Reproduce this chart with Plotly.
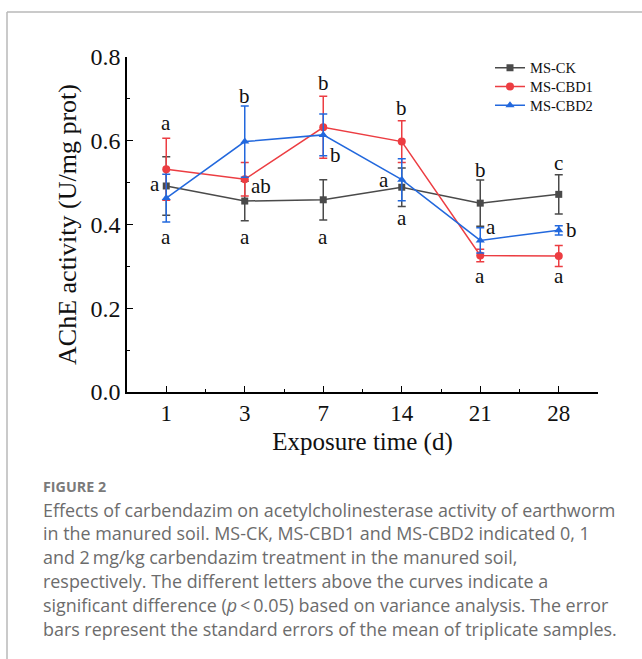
import plotly.graph_objects as go

# Exposure days and AChE activity (U/mg prot), mean ± SE of triplicates
days = ["1", "3", "7", "14", "21", "28"]
series_names = ["MS-CK", "MS-CBD1", "MS-CBD2"]
ck_mean = [0.492, 0.456, 0.459, 0.489, 0.451, 0.472]
ck_se = [0.070, 0.047, 0.048, 0.046, 0.055, 0.047]
cbd1_mean = [0.532, 0.508, 0.632, 0.598, 0.326, 0.325]
cbd1_se = [0.074, 0.040, 0.074, 0.050, 0.015, 0.025]
cbd2_mean = [0.463, 0.598, 0.614, 0.507, 0.362, 0.386]
cbd2_se = [0.057, 0.085, 0.050, 0.050, 0.030, 0.011]

# Significance letters: (day index, y value, letter, horizontal shift in px)
letters_top = [(0, 0.642, "a"), (1, 0.706, "b"), (2, 0.738, "b"),
               (3, 0.678, "b"), (4, 0.529, "b"), (5, 0.546, "c")]
letters_side = [(0, 0.497, "a", -11), (1, 0.493, "ab", 16), (2, 0.565, "b", 12),
                (3, 0.507, "a", -18), (4, 0.394, "a", 11), (5, 0.387, "b", 13)]
letters_bottom = [(0, 0.371, "a"), (1, 0.371, "a"), (2, 0.371, "a"),
                  (3, 0.416, "a"), (4, 0.276, "a"), (5, 0.276, "a")]

caption_label = "FIGURE 2"
caption_lines = [
    "Effects of carbendazim on acetylcholinesterase activity of earthworm",
    "in the manured soil. MS-CK, MS-CBD1 and MS-CBD2 indicated 0, 1",
    "and 2\u2009mg/kg carbendazim treatment in the manured soil,",
    "respectively. The different letters above the curves indicate a",
    "significant difference (<i>p</i>\u2009<\u20090.05) based on variance analysis. The error",
    "bars represent the standard errors of the mean of triplicate samples.",
]

W, H = 642, 659
L, R, T, B = 127, 44, 57, 267
PW, PH = W - L - R, H - T - B


def px_x(px):
    return (px - L) / PW


def px_y(py):
    return (H - B - py) / PH


SERIF = "Liberation Serif, Times New Roman, serif"
colors = ["#4a4a4a", "#ec3d42", "#2268dd"]
symbols = ["square", "circle", "triangle-up"]
sizes = [7, 8, 8]
means = [ck_mean, cbd1_mean, cbd2_mean]
errs = [ck_se, cbd1_se, cbd2_se]
legend_ids = ["legend", "legend2", "legend3"]
legend_rows = [67.7, 86.5, 105.3]   # vertical centre of each legend row (px)
xi = list(range(len(days)))

fig = go.Figure()
for name, m, e, c, s, sz, lg in zip(series_names, means, errs, colors, symbols,
                                    sizes, legend_ids):
    fig.add_trace(go.Scatter(
        x=xi, y=m, name=name, mode="lines+markers", legend=lg,
        line=dict(color=c, width=1.5),
        marker=dict(symbol=s, size=sz, color=c),
        error_y=dict(type="data", array=e, visible=True, color=c,
                     thickness=1.5, width=4),
    ))

ann = []
for i, y, t in letters_top + letters_bottom:
    ann.append(dict(x=i, y=y, text=t, showarrow=False, xref="x", yref="y",
                    font=dict(family=SERIF, size=21, color="#111")))
for i, y, t, dx in letters_side:
    ann.append(dict(x=i, y=y, text=t, showarrow=False, xref="x", yref="y",
                    xshift=dx, font=dict(family=SERIF, size=21, color="#111")))

# Caption below the figure
CAP_FONT = "Open Sans, Lato, sans-serif"
ann.append(dict(x=px_x(41), y=px_y(486), xref="paper", yref="paper",
                text="<b>" + caption_label + "</b>", showarrow=False,
                xanchor="left", yanchor="middle",
                font=dict(family=CAP_FONT, size=14.3, color="#7a7a7a")))
for k, line in enumerate(caption_lines):
    ann.append(dict(x=px_x(41), y=px_y(509.5 + 23.8 * k), xref="paper", yref="paper",
                    text=line, showarrow=False, xanchor="left", yanchor="middle",
                    font=dict(family=CAP_FONT, size=17.9, color="#6c6c6c")))

shapes = [
    dict(type="line", xref="paper", yref="paper", x0=px_x(7), x1=px_x(W + 5),
         y0=px_y(12), y1=px_y(12), line=dict(color="#b8b8b8", width=1.5)),
    dict(type="line", xref="paper", yref="paper", x0=px_x(7), x1=px_x(7),
         y0=px_y(12), y1=px_y(H + 5), line=dict(color="#b8b8b8", width=1.5)),
]

legend_style = dict(xanchor="left", yanchor="top",
                    font=dict(family=SERIF, size=14.5, color="#111"),
                    bgcolor="rgba(0,0,0,0)", borderwidth=0)
layout_legends = {}
for lg, row in zip(legend_ids, legend_rows):
    layout_legends[lg] = dict(x=px_x(490), y=px_y(row - 16), **legend_style)

fig.update_layout(
    width=W, height=H,
    margin=dict(l=L, r=R, t=T, b=B, autoexpand=False),
    paper_bgcolor="white", plot_bgcolor="white",
    showlegend=True,
    annotations=ann, shapes=shapes,
    xaxis=dict(
        range=[-0.5, 5.5], tickmode="array", tickvals=xi, ticktext=days,
        showline=True, linecolor="black", linewidth=1.5, mirror=False,
        ticks="inside", ticklen=6, tickwidth=1.3, tickcolor="black",
        minor=dict(tickmode="linear", tick0=-0.5, dtick=1, ticks="inside",
                   ticklen=3, tickwidth=1.3, tickcolor="black", showgrid=False),
        showgrid=False, zeroline=False,
        tickfont=dict(family=SERIF, size=23, color="#111"),
        title=dict(text="Exposure time (d)", standoff=7,
                   font=dict(family=SERIF, size=25, color="#111")),
    ),
    yaxis=dict(
        range=[0, 0.8], tickmode="linear", tick0=0, dtick=0.2, tickformat=".1f",
        showline=True, linecolor="black", linewidth=1.5,
        ticks="inside", ticklen=6, tickwidth=1.3, tickcolor="black",
        minor=dict(dtick=0.1, ticks="inside", ticklen=3, tickwidth=1.3,
                   tickcolor="black", showgrid=False),
        showgrid=False, zeroline=False,
        tickfont=dict(family=SERIF, size=24, color="#111"),
        title=dict(text="AChE activity (U/mg prot)", standoff=6,
                   font=dict(family=SERIF, size=26, color="#111")),
    ),
    **layout_legends,
)

fig.write_html("out.html")
